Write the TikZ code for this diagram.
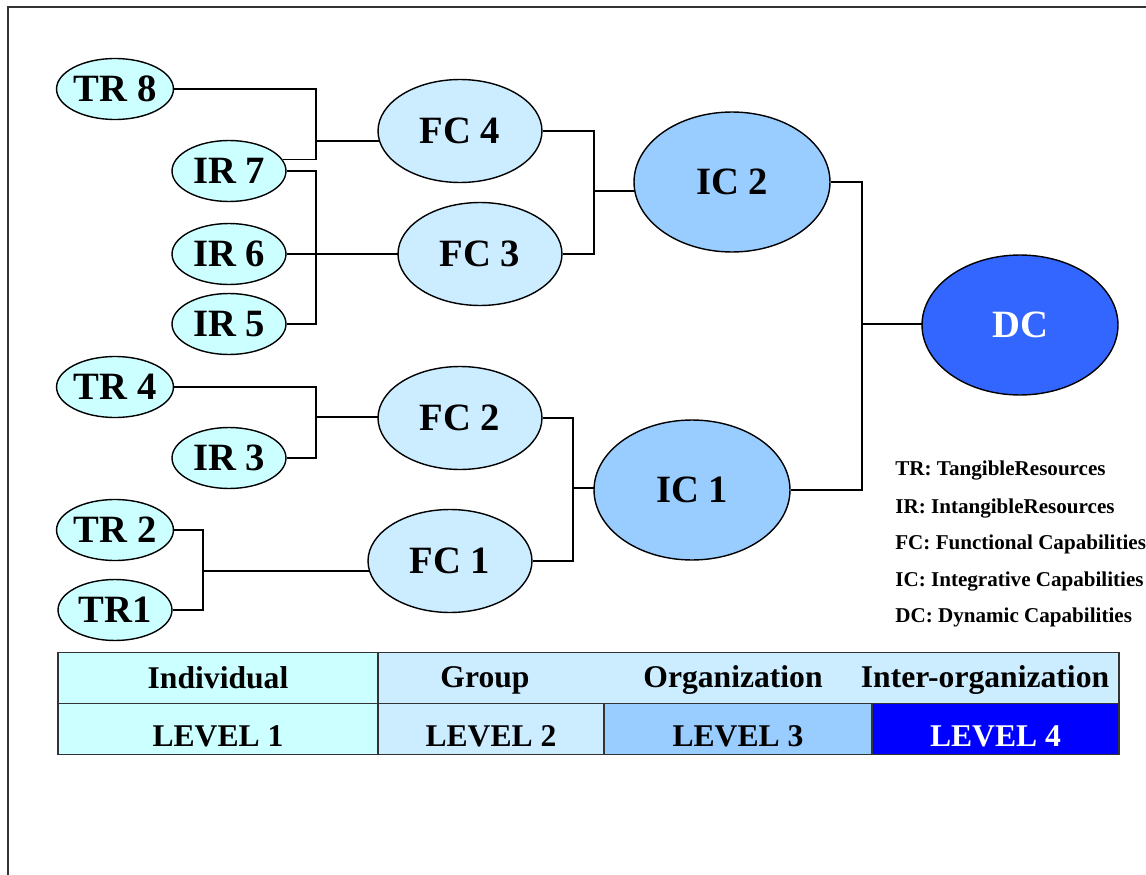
\documentclass[tikz,border=0pt]{standalone}
\usepackage{fontspec}
\setmainfont{Liberation Serif}
\usetikzlibrary{shapes.geometric,backgrounds}
\definecolor{resfill}{HTML}{CCFFFF}
\definecolor{fcfill}{HTML}{CCECFF}
\definecolor{icfill}{HTML}{99CCFF}
\definecolor{dcfill}{HTML}{3366FF}
\definecolor{lvfour}{HTML}{0000FF}
\definecolor{rim}{HTML}{333333}

\begin{document}
\begin{tikzpicture}[x=0.02cm,y=-0.02cm,
  wire/.style={line width=.8pt},
  blob/.style={ellipse,draw,line width=.8pt,inner sep=0pt,
               font=\bfseries\fontsize{22}{24}\selectfont},
  res/.style={blob,fill=resfill,minimum width=2.28cm,minimum height=1.22cm},
  fc/.style={blob,fill=fcfill,minimum width=3.28cm,minimum height=2.06cm},
  ic/.style={blob,fill=icfill,minimum width=3.92cm,minimum height=2.8cm},
  dc/.style={ic,fill=dcfill,text=white},
  cell/.style={draw=rim,line width=.8pt,inner sep=0pt,minimum height=1.02cm,
               text height=12pt,text depth=0pt,font=\bfseries\fontsize{18}{20}\selectfont},
  lvcell/.style={cell,text height=20pt},
  lbl/.style={anchor=base,inner sep=0pt,font=\bfseries\fontsize{18}{20}\selectfont},
  key/.style={anchor=base west,inner sep=0pt,font=\bfseries\fontsize{12}{14}\selectfont}]
\useasboundingbox (0,0) rectangle (1146,875);
\draw[rim,line width=1pt] (8,875) -- (8,7) -- (1146,7);

% ---------------- resources (level 1)
\node[res] (tr8) at (115,89)  {TR 8};
\node[res] (ir7) at (229,171) {IR 7};
\node[res] (ir6) at (229,254) {IR 6};
\node[res] (ir5) at (229,324) {IR 5};
\node[res] (tr4) at (115,387) {TR 4};
\node[res] (ir3) at (229,458) {IR 3};
\node[res] (tr2) at (115,530) {TR 2};
\node[res] (tr1) at (115,610) {TR1};

% ---------------- capabilities
\node[fc] (fc4) at (460,131) {FC 4};
\node[fc] (fc3) at (480,254) {FC 3};
\node[fc] (fc2) at (460,418) {FC 2};
\node[fc] (fc1) at (450,561) {FC 1};
\node[ic] (ic2) at (732,182) {IC 2};
\node[ic] (ic1) at (692,490) {IC 1};
\node[dc] (dc)  at (1020,325) {DC};

% ---------------- bracket connectors
\coordinate (j4) at (316,141);
\coordinate (j3) at (316,254);
\coordinate (j2) at (316,417);
\coordinate (j1) at (203,571);
\coordinate (k2) at (594,191);
\coordinate (k1) at (573,488);
\coordinate (m)  at (862,324);
\begin{scope}[on background layer]
  \draw[wire] (tr8.east) -| (j4) |- (ir7.12);
  \draw[wire] (j4) -- (fc4.center |- j4);
  \draw[wire] (ir7.east) -| (j3) |- (ir5.east);
  \draw[wire] (ir6.east) -- (fc3.center);
  \draw[wire] (tr4.east) -| (j2) |- (ir3.east);
  \draw[wire] (j2) -- (fc2.center |- j2);
  \draw[wire] (tr2.east) -| (j1) |- (tr1.east);
  \draw[wire] (j1) -- (fc1.center |- j1);
  \draw[wire] (fc4.east) -| (k2) |- (fc3.east);
  \draw[wire] (k2) -- (ic2.center |- k2);
  \draw[wire] (fc2.east) -| (k1) |- (fc1.east);
  \draw[wire] (k1) -- (ic1.center |- k1);
  \draw[wire] (ic2.east) -| (m) |- (ic1.east);
  \draw[wire] (m) -- (dc.center |- m);
\end{scope}

% ---------------- legend
\node[key] (ktr) at (895,475) {TR: TangibleResources};
\node[key] (kir) at (895,513) {IR: IntangibleResources};
\node[key] (kfc) at (895,549) {FC: Functional Capabilities};
\node[key] (kic) at (895,586) {IC: Integrative Capabilities};
\node[key] (kdc) at (895,622) {DC: Dynamic Capabilities};

% ---------------- level table
\node[cell,fill=resfill,minimum width=6.4cm] (indiv) at (218,678) {Individual};
\node[cell,fill=fcfill,minimum width=14.82cm] (band) at (748.5,678) {};
\node[lbl] (grp)   at (485,687) {Group};
\node[lbl] (org)   at (733,687) {Organization};
\node[lbl] (inter) at (985,687) {Inter-organization};
\node[lvcell,fill=resfill,minimum width=6.4cm]  (lv1) at (218,729)   {LEVEL 1};
\node[lvcell,fill=fcfill,minimum width=4.52cm]  (lv2) at (491,729)   {LEVEL 2};
\node[lvcell,fill=icfill,minimum width=5.36cm]  (lv3) at (738,729)   {LEVEL 3};
\node[lvcell,fill=lvfour,text=white,minimum width=4.94cm] (lv4) at (995.5,729) {LEVEL 4};
\end{tikzpicture}
\end{document}
